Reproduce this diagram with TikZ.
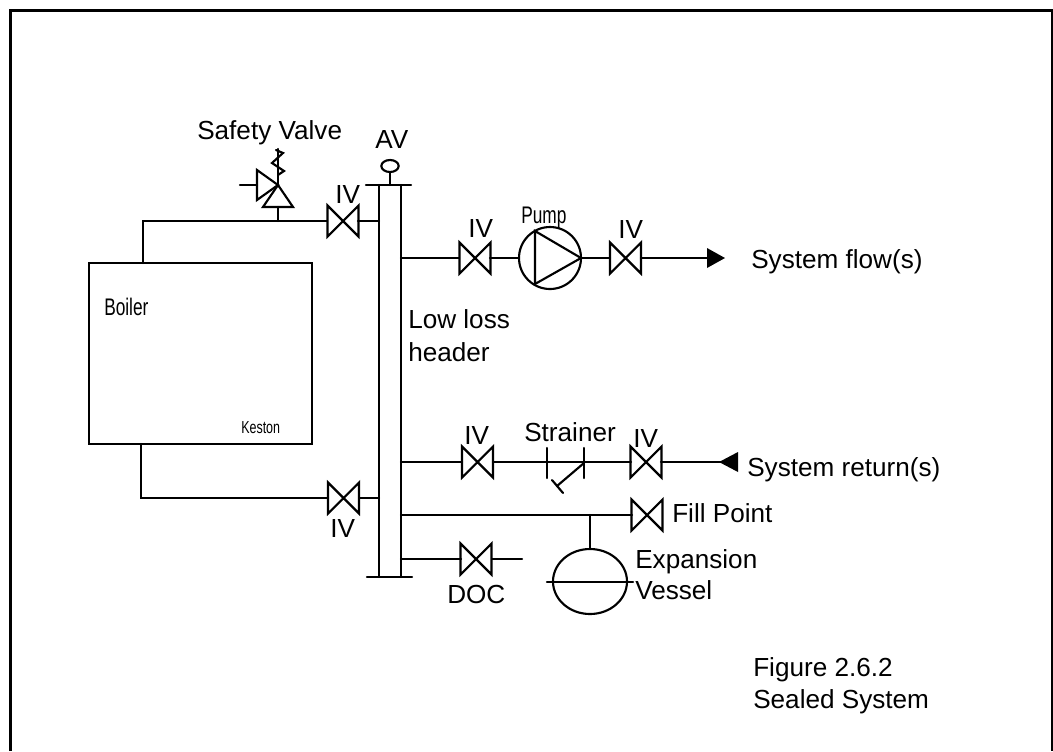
\documentclass[tikz,border=0pt]{standalone}
\usepackage{fontspec}
\usepackage{graphicx}
\usetikzlibrary{shapes.geometric}
\setmainfont{Liberation Sans}
\newcommand{\narrowtxt}[1]{\scalebox{0.72}[1]{#1}}
\tikzset{
  x=0.75pt,y=-0.75pt,
  pipe/.style={line width=1.6pt,line cap=round,line join=miter},
  lbl/.style={inner sep=0pt,anchor=base west,font=\fontsize{19.6pt}{23pt}\selectfont,align=left},
  nlbl/.style={inner sep=0pt,anchor=base west,font=\fontsize{18pt}{21pt}\selectfont},
  sm/.style={inner sep=0pt,anchor=base west,font=\fontsize{13pt}{15pt}\selectfont},
  valve/.pic={\draw[pipe,line join=miter] (-15.5,-15.5) -- (15.5,15.5) -- (15.5,-15.5) -- (-15.5,15.5) -- cycle;}
}
\begin{document}
\begin{tikzpicture}
\useasboundingbox (0,0) rectangle (1053,751);
\fill[white] (0,0) rectangle (1053,751);
% frame
\draw[line width=2.2pt] (10.5,751) -- (10.5,10.5) -- (1052,10.5) -- (1052,751);
% boiler
\node[draw,line width=1.6pt,minimum width=167.25pt,minimum height=135.75pt,inner sep=0pt] (boiler) at (200.5,353.5) {};
% header
\coordinate (hT) at (390,185);
\draw[pipe] (379,185) -- (379,577);
\draw[pipe] (401,185) -- (401,577);
\draw[pipe] (366,185) -- (411,185);
\draw[pipe] (367,577) -- (412,577);
% AV
\node[draw,line width=1.6pt,ellipse,inner sep=0pt,minimum width=13pt,minimum height=9pt] (av) at (390,166) {};
\draw[pipe] (av.south) -- (hT);
% top pipe and valves
\coordinate (rTop) at (143,221);
\draw[pipe] (143,263) -- (rTop) -- (327,221);
\draw[pipe] (358,221) -- (379,221);
\pic at (343,221) {valve};
% safety valve
\draw[pipe] (278,221) -- (278,207);
\draw[pipe] (278,185) -- (263,207) -- (293,207) -- cycle;
\draw[pipe] (278,185) -- (257,170) -- (257,200) -- cycle;
\draw[pipe] (240,185) -- (257,185);
\draw[pipe] (278,185) -- (278,149);
\draw[pipe] (278,175) -- (284,171) -- (272,163) -- (283,153) -- (276,150);
% lower pipe
\draw[pipe] (141,444) -- (141,498) -- (328,498);
\draw[pipe] (360,498) -- (379,498);
\pic at (343.5,498) {valve};
% pump line
\draw[pipe] (401,258) -- (459,258);
\pic at (475,258) {valve};
\node[draw,circle,line width=1.6pt,minimum size=46.5pt,inner sep=0pt] (pump) at (550,258) {};
\draw[pipe] (490,258) -- (pump.west);
\draw[pipe,line join=miter] (535,231) -- (581,258) -- (535,284) -- cycle;
\draw[pipe] (pump.east) -- (610,258);
\pic at (625.5,258) {valve};
\draw[pipe] (641,258) -- (708,258);
\fill (707,248) -- (725,258) -- (707,268) -- cycle;
% return line
\draw[pipe] (401,462) -- (462,462);
\pic at (477.5,462) {valve};
\draw[pipe] (493,462) -- (631,462);
\draw[pipe] (547,448) -- (547,478);
\draw[pipe] (584,448) -- (584,478);
\draw[pipe] (584,463) -- (557,486);
\draw[pipe] (552,480) -- (563,493);
\pic at (646,462) {valve};
\draw[pipe] (661,462) -- (722,462);
\fill (738,452) -- (719,462) -- (738,472) -- cycle;
% fill line
\draw[pipe] (401,515) -- (632,515);
\pic at (647,515) {valve};
\node[draw,ellipse,line width=1.6pt,minimum width=55.5pt,minimum height=48.75pt,inner sep=0pt] (exp) at (590,581.5) {};
\draw[pipe] (590,515) -- (exp.north);
\draw[pipe] (547,582) -- (633,582);
% DOC
\draw[pipe] (401,559) -- (461,559);
\pic at (476,559) {valve};
\draw[pipe] (492,559) -- (522,559);
% labels
\node[lbl] (tSafety) at (197,139) {Safety Valve};
\node[lbl] (tAV) at (375,148) {AV};
\node[lbl] (tIVa) at (335,203) {IV};
\node[lbl] (tIVb) at (468,237) {IV};
\node[nlbl] (tPump) at (521,223) {\narrowtxt{Pump}};
\node[lbl] (tIVc) at (618,238) {IV};
\node[lbl] (tFlow) at (751,268) {System flow(s)};
\node[nlbl] (tBoiler) at (104,315) {\narrowtxt{Boiler}};
\node[sm] (tKeston) at (241,433) {\narrowtxt{Keston}};
\node[lbl] (tLow) at (408,328) {Low loss};
\node[lbl] (tHeader) at (408,361) {header};
\node[lbl] (tIVd) at (464,444) {IV};
\node[lbl] (tStrainer) at (524,441) {Strainer};
\node[lbl] (tIVe) at (633,447) {IV};
\node[lbl] (tReturn) at (747,476) {System return(s)};
\node[lbl] (tIVf) at (330,537) {IV};
\node[lbl] (tFill) at (672,522) {Fill Point};
\node[lbl] (tExp) at (635,568) {Expansion};
\node[lbl] (tVessel) at (635,599) {Vessel};
\node[lbl] (tDOC) at (447,603) {DOC};
\node[lbl] (tFig) at (753,676) {Figure 2.6.2};
\node[lbl] (tSealed) at (753,708) {Sealed System};
\end{tikzpicture}
\end{document}
